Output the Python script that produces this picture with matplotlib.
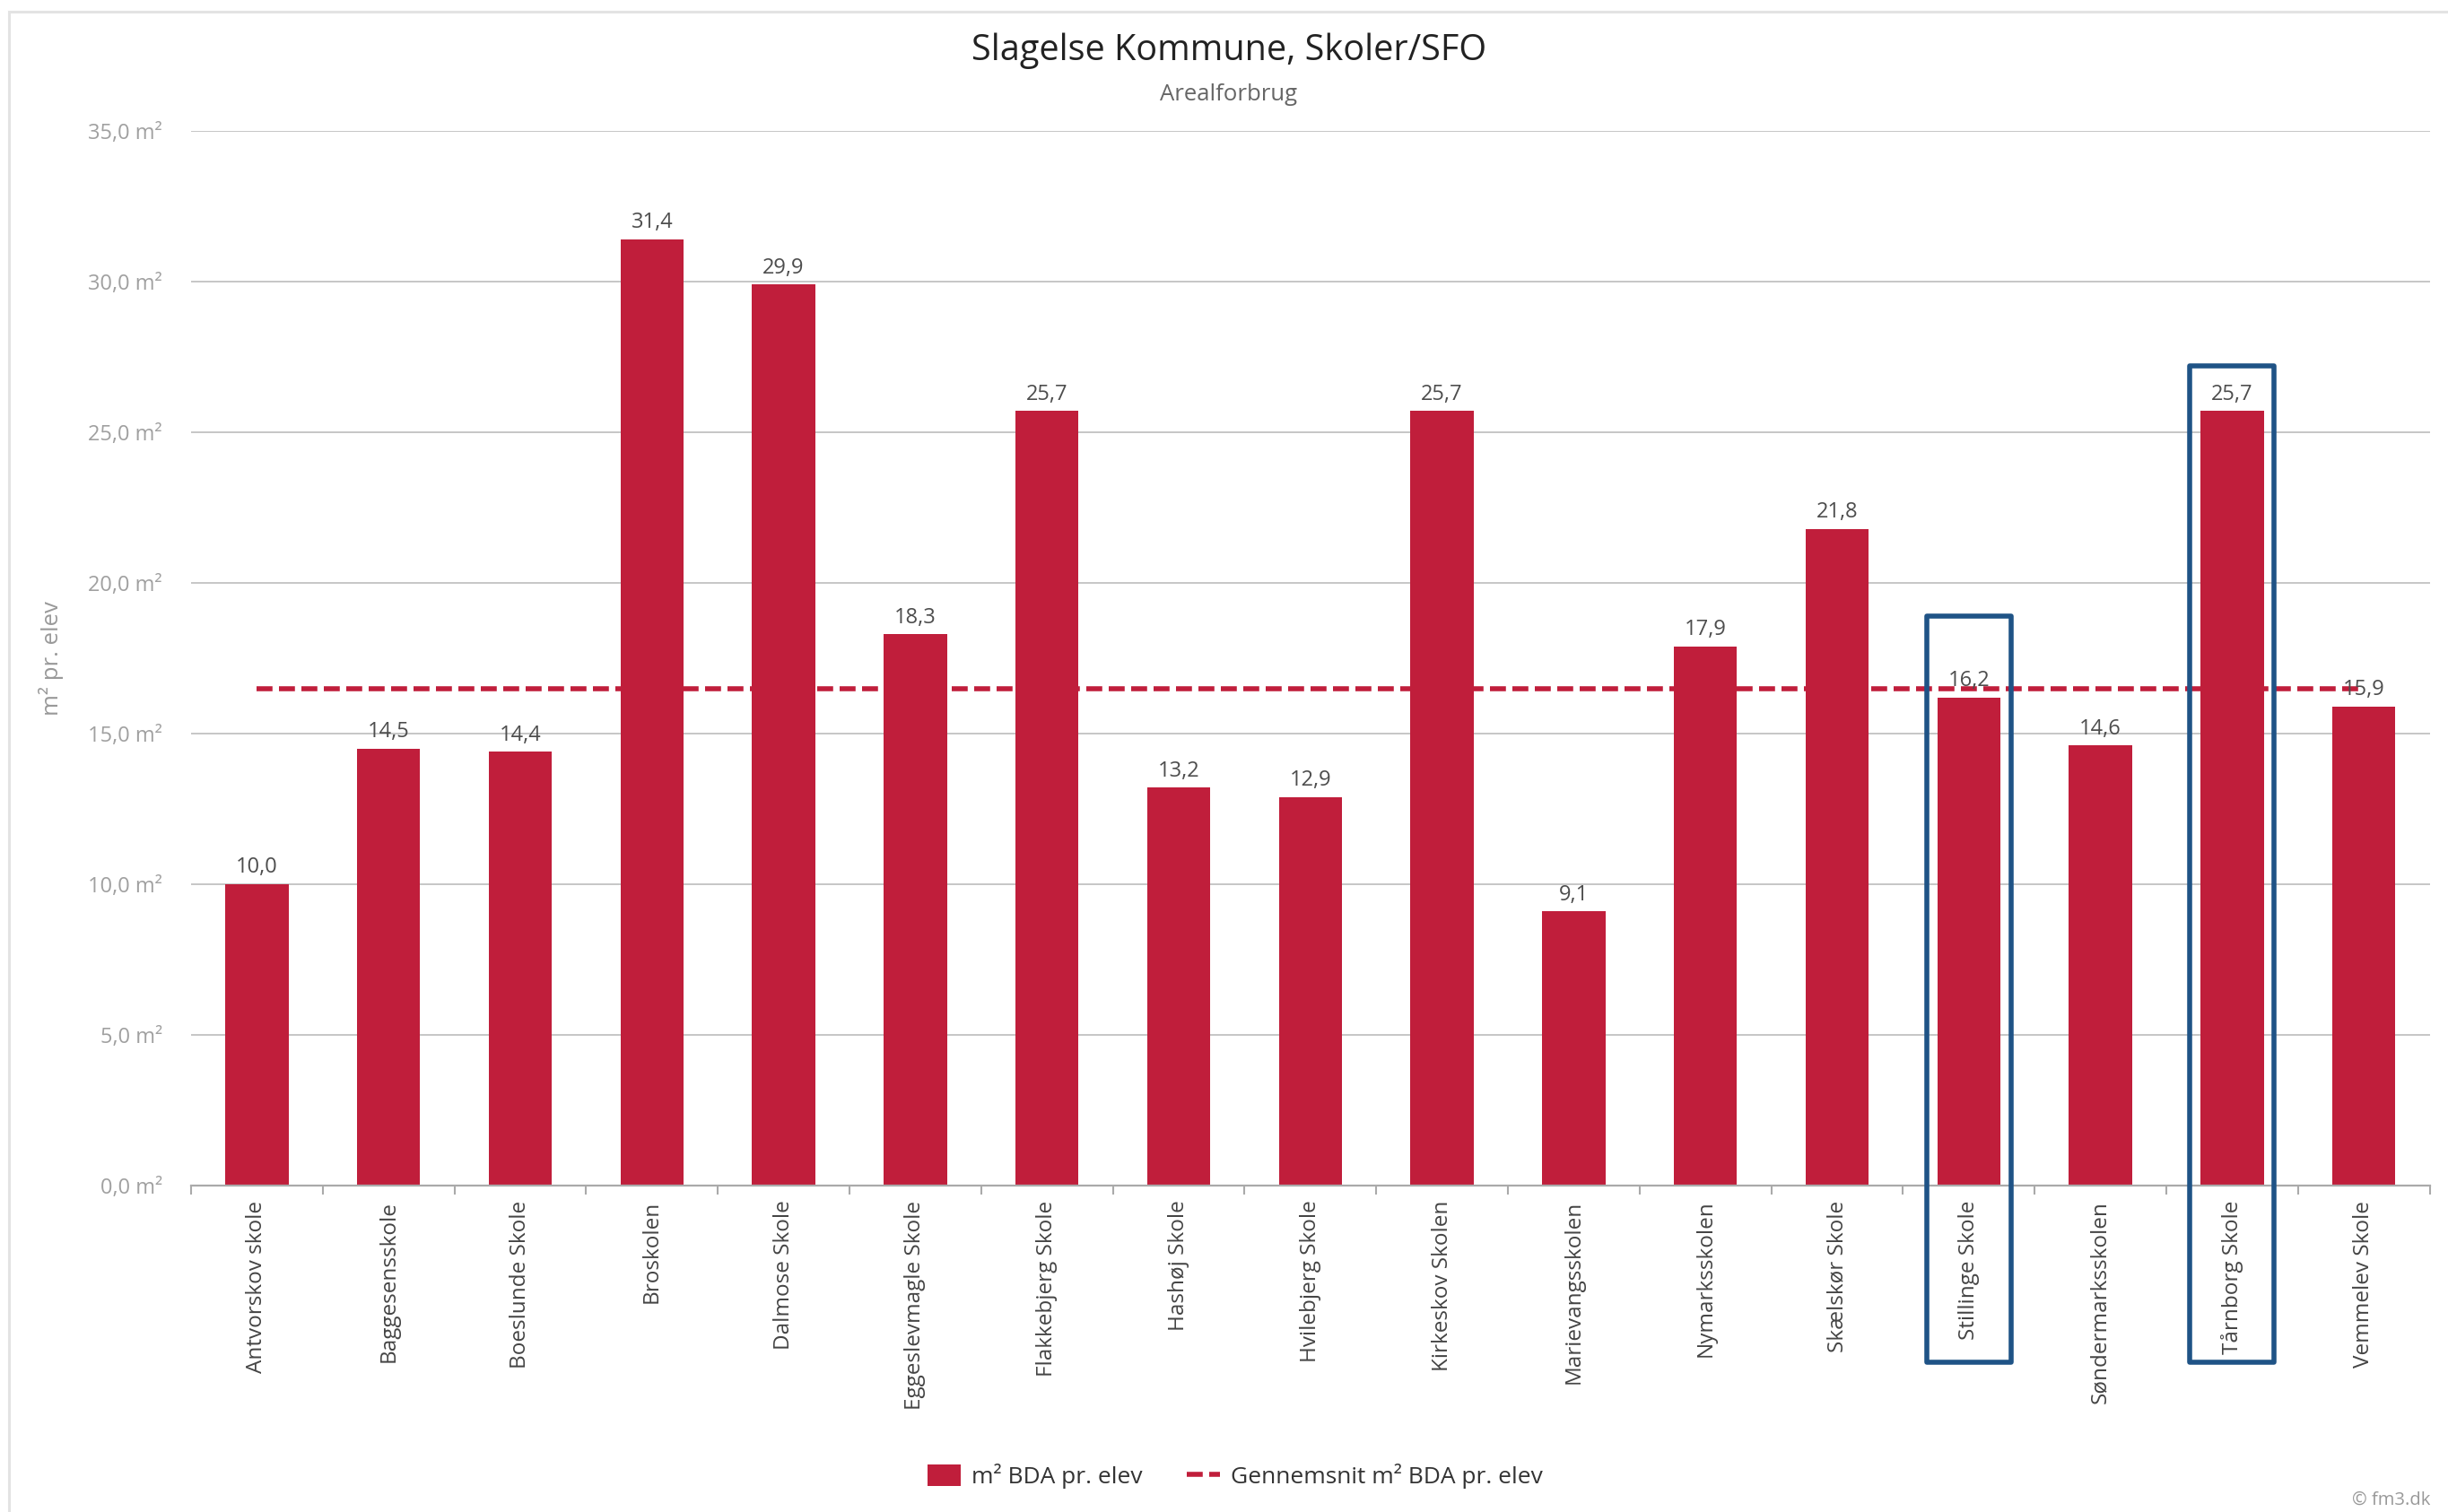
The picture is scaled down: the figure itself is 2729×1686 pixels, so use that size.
import matplotlib
matplotlib.use("Agg")
import matplotlib.pyplot as plt
from matplotlib.patches import Rectangle, Patch
from matplotlib.lines import Line2D
import numpy as np

# ---- data ----
schools = ["Antvorskov skole", "Baggesensskole", "Boeslunde Skole", "Broskolen",
           "Dalmose Skole", "Eggeslevmagle Skole", "Flakkebjerg Skole", "Hashøj Skole",
           "Hvilebjerg Skole", "Kirkeskov Skolen", "Marievangsskolen", "Nymarksskolen",
           "Skælskør Skole", "Stillinge Skole", "Søndermarksskolen", "Tårnborg Skole",
           "Vemmelev Skole"]
values = [10.0, 14.5, 14.4, 31.4, 29.9, 18.3, 25.7, 13.2, 12.9, 25.7, 9.1, 17.9,
          21.8, 16.2, 14.6, 25.7, 15.9]
average = 16.5
highlighted = ["Stillinge Skole", "Tårnborg Skole"]
highlight_tops = [18.9, 27.2]
highlight_bottom = -5.85
y_ticks = [0, 5, 10, 15, 20, 25, 30, 35]
title = "Slagelse Kommune, Skoler/SFO"
subtitle = "Arealforbrug"
y_label = "m² pr. elev"
series_name = "m² BDA pr. elev"
avg_name = "Gennemsnit m² BDA pr. elev"
credit = "© fm3.dk"

BAR = "#C01E3B"
BLUE = "#1F5386"

plt.rcParams['font.family'] = ['Open Sans', 'DejaVu Sans']

fig = plt.figure(figsize=(27.29, 16.86), dpi=100)
ax = fig.add_axes([0.07805, 0.2159, 0.9145, 0.6975])

x = np.arange(len(schools))
ax.bar(x, values, width=0.48, color=BAR, zorder=2)
ax.plot(x, [average] * len(x), color=BAR, lw=4, ls=(0, (3.2, 1.3)), zorder=3)

for i, v in enumerate(values):
    ax.annotate(f"{v:.1f}".replace('.', ','), (i, v), xytext=(0, 9),
                textcoords='offset points', ha='center', va='baseline',
                fontsize=17, color='#4d4d4d', zorder=5)

for name, top in zip(highlighted, highlight_tops):
    i = schools.index(name)
    ax.add_patch(Rectangle((i - 0.32, highlight_bottom), 0.64, top - highlight_bottom,
                           fill=False, ec=BLUE, lw=4, clip_on=False, zorder=6,
                           joinstyle='round'))

ax.set_xlim(-0.5, len(schools) - 0.5)
ax.set_ylim(0, 35)
ax.set_yticks(y_ticks)
ax.set_yticklabels([f"{t:.1f} m²".replace('.', ',') for t in y_ticks])
ax.yaxis.grid(True, color='#c6c6c6', lw=1.4)
ax.set_axisbelow(True)
for s in ['top', 'right', 'left']:
    ax.spines[s].set_visible(False)
ax.spines['bottom'].set_color('#aaaaaa')
ax.spines['bottom'].set_linewidth(1.6)
ax.tick_params(axis='y', length=0, pad=23, labelsize=17, labelcolor='#a0a0a0')
ax.set_xticks(x)
ax.set_xticklabels(schools, rotation=90, va='top', ha='center')
ax.tick_params(axis='x', which='major', length=0, pad=12, labelsize=17.5, labelcolor='#444444')
ax.set_xticks(np.arange(-0.5, len(schools), 1), minor=True)
ax.tick_params(axis='x', which='minor', length=7, width=1.5, color='#aaaaaa')

fig.text(0.502, 0.9604, title, ha='center', va='baseline', fontsize=28.5, color='#222222')
fig.text(0.502, 0.9337, subtitle, ha='center', va='baseline', fontsize=18.5, color='#666666')
fig.text(57 / 2729, 1 - 734 / 1686, y_label, rotation=90, ha='center', va='center',
         fontsize=18.5, color='#999999')
fig.text(0.9927, 0.005, credit, ha='right', va='baseline', fontsize=14.5, color='#999999')

# container border
fig.add_artist(Line2D([0.0038, 1.0], [0.9921, 0.9921], transform=fig.transFigure,
                      color='#e3e3e3', lw=2.2))
fig.add_artist(Line2D([0.0038, 0.0038], [0.0, 0.9921], transform=fig.transFigure,
                      color='#e3e3e3', lw=2.2))

handles = [Patch(facecolor=BAR, edgecolor='none'),
           Line2D([0], [0], color=BAR, lw=4, ls=(0, (3.2, 1.3)))]
fig.legend(handles, [series_name, avg_name], loc='center', bbox_to_anchor=(0.5046, 0.0237),
           ncol=2, frameon=False, fontsize=19, handlelength=1.4, handleheight=1.0,
           handletextpad=0.45, columnspacing=1.9, labelcolor='#333333')

fig.savefig("out.png", dpi=100)
